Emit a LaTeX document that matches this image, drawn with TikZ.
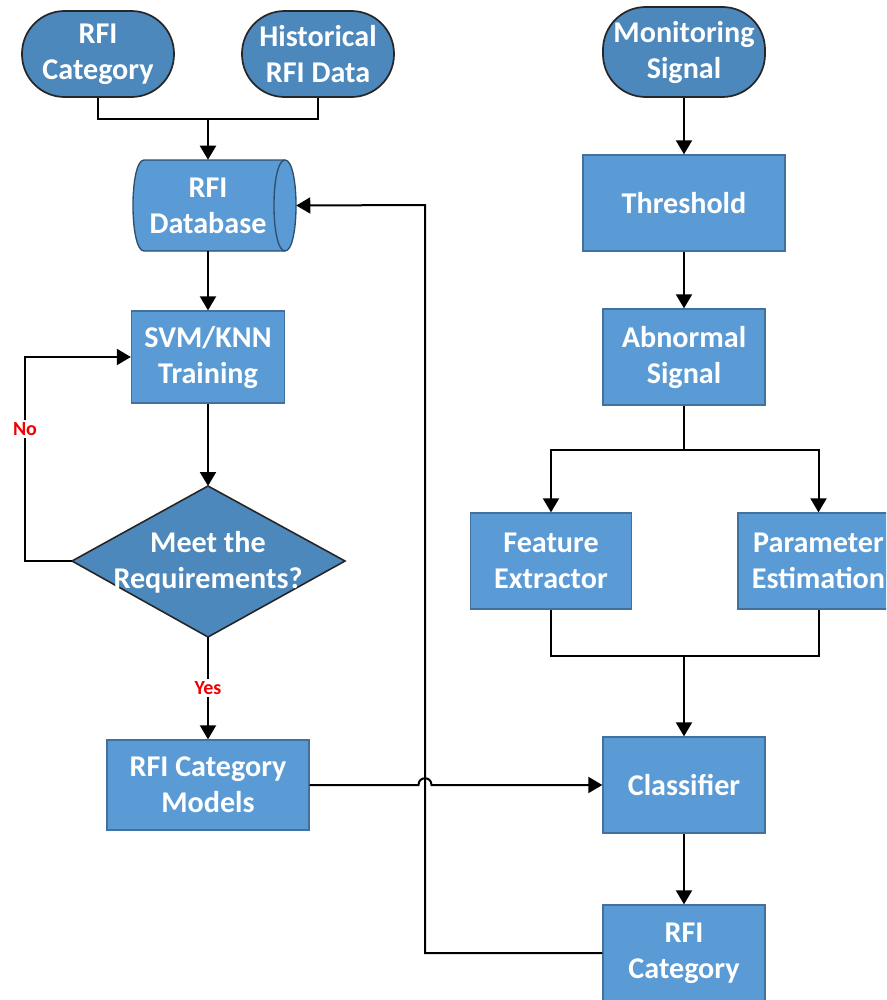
\documentclass[tikz,border=0pt]{standalone}
\usepackage{fontspec}
\setmainfont{Carlito}
\usetikzlibrary{arrows.meta}
\definecolor{boxfill}{RGB}{91,155,213}
\definecolor{boxedge}{RGB}{65,113,156}
\definecolor{termfill}{RGB}{76,136,188}
\definecolor{labred}{RGB}{240,0,0}
\tikzset{
  base/.style={font=\fontsize{22.6}{27}\selectfont\bfseries, text=white, align=center, inner sep=0pt},
  procbox/.style={base, rectangle, fill=boxfill, draw=boxedge, line width=1pt},
  termbox/.style={base, rectangle, rounded corners=32pt, fill=termfill, draw=black!85, line width=1.3pt},
  conn/.style={line width=1.5pt, black},
  arr/.style={conn, -{Triangle[width=12pt,length=10.5pt]}},
  lab/.style={font=\fontsize{15}{17}\selectfont\bfseries, text=labred, fill=white, inner xsep=1pt, inner ysep=2pt}
}
\begin{document}
\begin{tikzpicture}[x=0.75pt,y=-0.75pt]
\path[use as bounding box, clip] (0,0) rectangle (886,1000);
% left column
\node[termbox, minimum width=114pt, minimum height=64.5pt] (cat1) at (98,54) {RFI\\Category};
\node[termbox, minimum width=114pt, minimum height=64.5pt] (hist) at (318,54) {Historical\\RFI Data};
% database (cylinder drawn around a named node)
\fill[boxfill] (144,160) -- (285,160) .. controls (299.7,160) and (299.7,251) .. (285,251) -- (144,251) .. controls (129.3,251) and (129.3,160) .. (144,160) -- cycle;
\draw[boxedge!70!black, line width=1pt] (144,160) -- (285,160) .. controls (299.7,160) and (299.7,251) .. (285,251) -- (144,251) .. controls (129.3,251) and (129.3,160) .. (144,160) -- cycle;
\draw[boxedge!70!black, line width=1pt] (285,160) .. controls (270.3,160) and (270.3,251) .. (285,251);
\node[base, minimum width=132pt, minimum height=68.25pt] (db) at (208,205.5) {RFI\\Database};
\node[procbox, minimum width=114.75pt, minimum height=69pt] (svm) at (208,357) {SVM/KNN\\Training};
% decision diamond
\coordinate (decT) at (208,486);
\coordinate (decR) at (345,561);
\coordinate (decB) at (208,637);
\coordinate (decL) at (72,561);
\fill[termfill] (decT) -- (decR) -- (decB) -- (decL) -- cycle;
\draw[black!85, line width=1.2pt] (decT) -- (decR) -- (decB) -- (decL) -- cycle;
\node[base] (dec) at (208,562) {Meet the\\Requirements?};
\node[procbox, minimum width=151.5pt, minimum height=67.5pt] (models) at (208,785) {RFI Category\\Models};
% right column
\node[termbox, minimum width=121.5pt, minimum height=67.5pt] (mon) at (684,52) {Monitoring\\Signal};
\node[procbox, minimum width=151.5pt, minimum height=72pt] (thr) at (684,203) {Threshold};
\node[procbox, minimum width=121.5pt, minimum height=72pt] (abn) at (684,357) {Abnormal\\Signal};
\node[procbox, minimum width=120.75pt, minimum height=72pt] (feat) at (551,561) {Feature\\Extractor};
\node[procbox, minimum width=120.75pt, minimum height=72pt] (param) at (818.5,561) {Parameter\\Estimation};
\node[procbox, minimum width=121.5pt, minimum height=72pt] (cls) at (684,785) {Classifier};
\node[procbox, minimum width=121.5pt, minimum height=72pt] (cat2) at (684,953) {RFI\\Category};
% connectors: left
\coordinate (jn) at (208,119);
\draw[conn] (cat1.south) |- (jn) -| (hist.south);
\draw[arr] (jn) -- (db.north);
\draw[arr] (db.south) -- (svm.north);
\draw[arr] (svm.south) -- (decT);
\coordinate (lp) at (25,561);
\draw[arr] (decL) -- (lp) |- (svm.west);
\node[lab] (no) at (25,429) {No};
\draw[arr] (decB) -- (models.north);
\node[lab] (yes) at (208,688) {Yes};
% feedback from bottom category to database
\coordinate (fb) at (425,205);
\draw[arr] (cat2.west) -| (fb) -- (db.east);
% models to classifier with hop
\coordinate (hopL) at (418.5,785);
\coordinate (hopR) at (431.5,785);
\draw[arr] (models.east) -- (hopL) .. controls (418.5,776) and (431.5,776) .. (hopR) -- (cls.west);
% right connectors
\draw[arr] (mon.south) -- (thr.north);
\draw[arr] (thr.south) -- (abn.north);
\coordinate (br) at (684,450);
\draw[conn] (abn.south) -- (br);
\draw[arr] (br) -| (feat.north);
\draw[arr] (br) -| (param.north);
\coordinate (mg) at (684,656);
\draw[conn] (feat.south) |- (mg) -| (param.south);
\draw[arr] (mg) -- (cls.north);
\draw[arr] (cls.south) -- (cat2.north);
\end{tikzpicture}
\end{document}
